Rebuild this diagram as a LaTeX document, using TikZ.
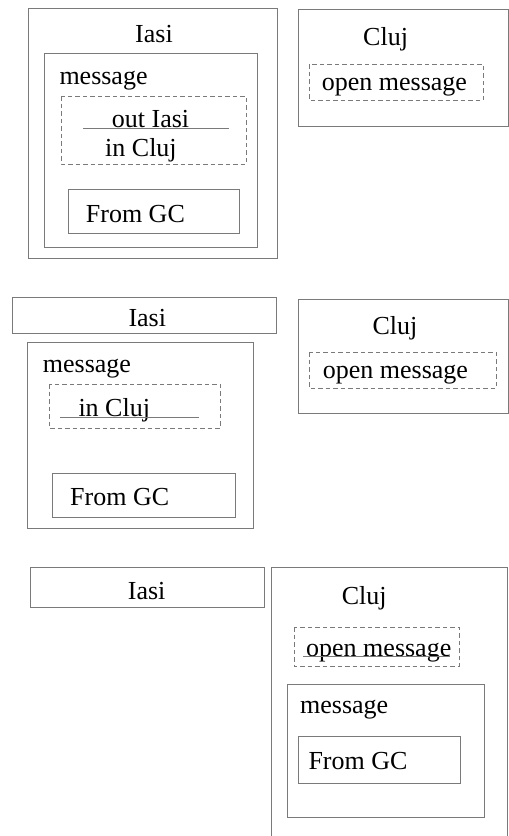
\documentclass[tikz,border=0pt]{standalone}
\usepackage{fontspec}
\setmainfont{Liberation Serif}
\definecolor{linegray}{HTML}{7A7A7A}
\tikzset{
    box/.style={draw=linegray, line width=0.9pt},
    dashbox/.style={draw=linegray, line width=0.9pt, dash pattern=on 4.5pt off 3pt},
    lbl/.style={inner sep=0pt, anchor=base west, font=\fontsize{26}{30}\selectfont}
}

\begin{document}
\begin{tikzpicture}[x=1pt, y=-1pt]
    \useasboundingbox (0,0) rectangle (509,836);
    % step 1: message sits in Iasi
    \draw[box] (28,8) rectangle (277,258);
    \draw[box] (44,53) rectangle (257,247);
    \draw[dashbox] (61,96) rectangle (246,164);
    \draw[box] (68,189) rectangle (239,233);
    \draw[box] (298,9) rectangle (508,126);
    \draw[dashbox] (309,64) rectangle (483,100);
    \node[lbl] (iasiA) at (135,42.7) {Iasi};
    \node[lbl] (msgA) at (59.3,84) {message};
    \node[lbl] (outA) at (111.7,127) {out Iasi};
    \node[lbl] (inA) at (105,156) {in Cluj};
    \node[lbl] (gcA) at (85.7,222.7) {From GC};
    \node[lbl] (clujA) at (363,45) {Cluj};
    \node[lbl] (openA) at (321.7,90.7) {open message};
    \draw[linegray, line width=0.8pt] (83,128.3) -- (229,128.3);

    % step 2: message leaves Iasi
    \draw[box] (12,297) rectangle (276,333);
    \draw[box] (27,342) rectangle (253,528);
    \draw[dashbox] (49,384) rectangle (220,428);
    \draw[box] (52,473) rectangle (235,517);
    \draw[box] (298,299) rectangle (508,413);
    \draw[dashbox] (309,352) rectangle (496,388);
    \node[lbl] (iasiB) at (128.3,326.7) {Iasi};
    \node[lbl] (msgB) at (42.7,372) {message};
    \node[lbl] (inB) at (78.3,416.7) {in Cluj};
    \node[lbl] (gcB) at (70,505.7) {From GC};
    \node[lbl] (clujB) at (372.3,334) {Cluj};
    \node[lbl] (openB) at (322.7,378.3) {open message};
    \draw[linegray, line width=0.8pt] (60,417) -- (199,417);

    % step 3: message opened in Cluj
    \draw[box] (30,567) rectangle (264,607);
    \draw[box] (271,836) -- (271,567) -- (507,567) -- (507,836);
    \draw[dashbox] (294,627) rectangle (459,666);
    \draw[box] (287,684) rectangle (484,817);
    \draw[box] (298,736) rectangle (460,783);
    \node[lbl] (iasiC) at (127.7,599) {Iasi};
    \node[lbl] (clujC) at (341.7,604) {Cluj};
    \node[lbl] (openC) at (306,656) {open message};
    \node[lbl] (msgC) at (300,713) {message};
    \node[lbl] (gcC) at (308.3,769) {From GC};
    \draw[linegray, line width=0.8pt] (303,656) -- (450,656);
\end{tikzpicture}
\end{document}
